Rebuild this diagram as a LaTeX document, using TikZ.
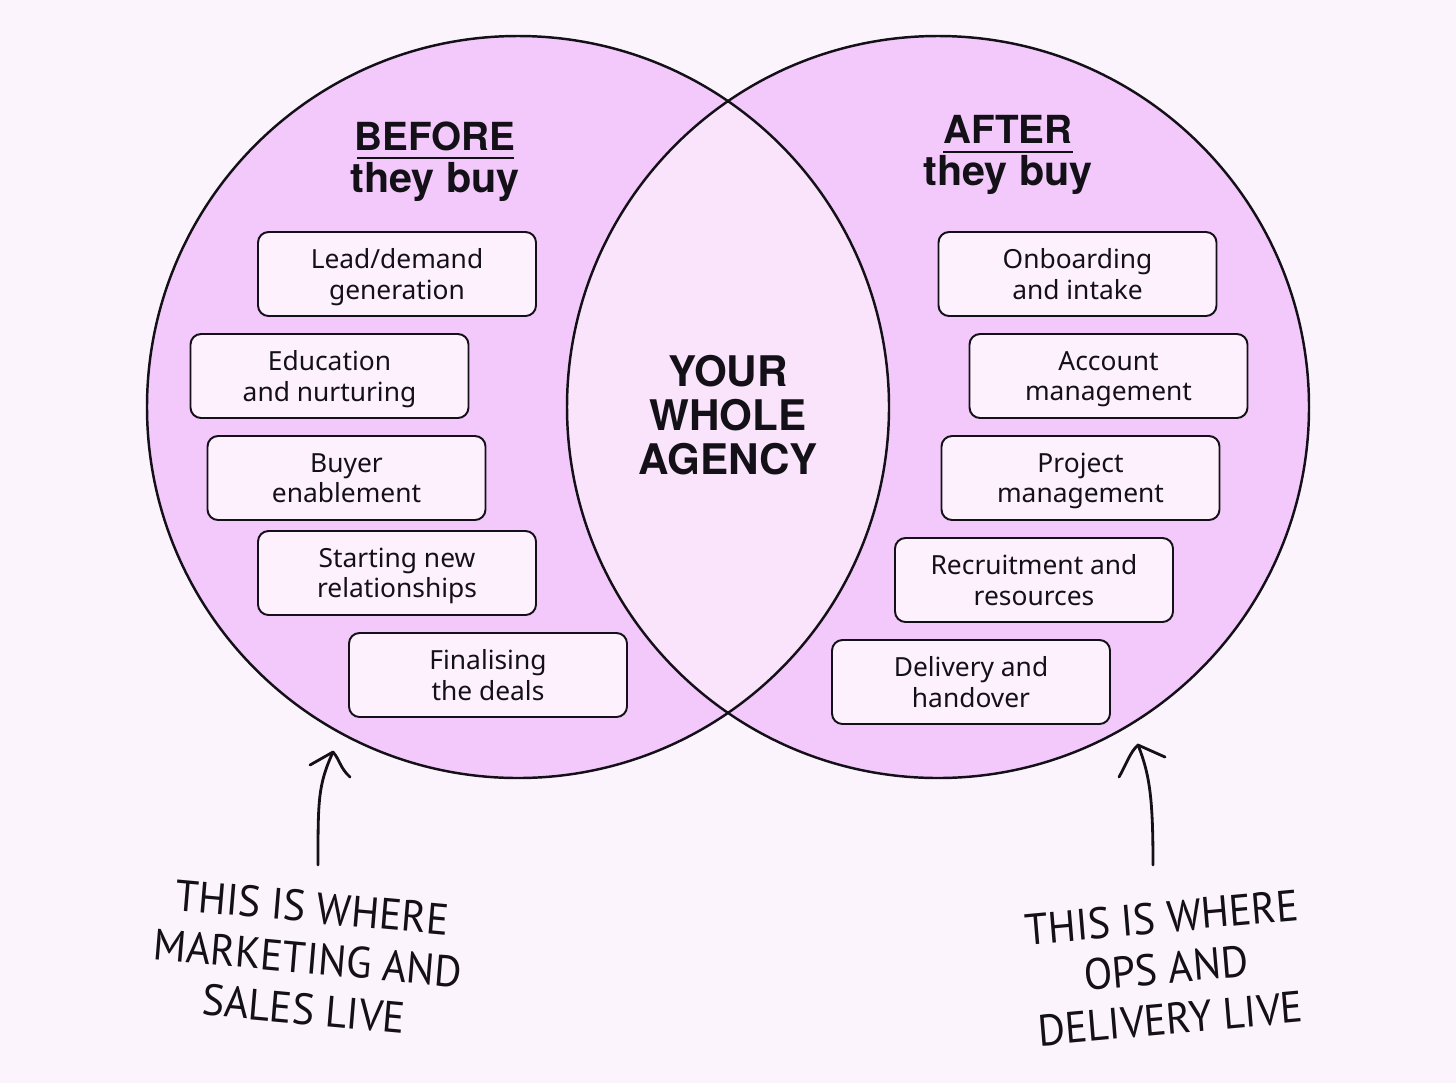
\documentclass[tikz,border=0pt]{standalone}
\usepackage{fontspec}
\setmainfont{Noto Sans}
\newfontfamily\headfont{TeX Gyre Heros}
\newfontfamily\handfont{PT Sans}
\definecolor{bgc}{RGB}{252,244,252}
\definecolor{circc}{RGB}{242,201,250}
\definecolor{lensc}{RGB}{250,228,252}
\definecolor{boxc}{RGB}{253,241,253}
\definecolor{inkc}{RGB}{20,16,24}
\tikzset{
  itembox/.style={draw=inkc, line width=1.1pt, fill=boxc, rounded corners=6pt,
    minimum width=278*0.02cm, minimum height=84*0.02cm, align=center,
    font=\fontsize{15}{17.2}\selectfont, text=inkc, inner sep=0pt, text depth=0pt},
  headtxt/.style={font=\headfont\fontsize{22}{25}\selectfont\bfseries, text=inkc, inner sep=0pt},
  handtxt/.style={font=\handfont\fontsize{25}{29}\selectfont, text=inkc, inner sep=0pt, xscale=0.95, align=center},
  pen/.style={line width=1.6pt, draw=inkc, line cap=round, line join=round}
}
\begin{document}
\begin{tikzpicture}[x=0.02cm,y=-0.02cm]
\useasboundingbox (0,0) rectangle (1456,1083);
\fill[bgc] (0,0) rectangle (1456,1083);
% circles
\fill[circc] (518,407) circle (371);
\fill[circc] (938,407) circle (371);
\begin{scope}
  \clip (518,407) circle (371);
  \fill[lensc] (938,407) circle (371);
\end{scope}
\draw[inkc, line width=1.4pt] (518,407) circle (371);
\draw[inkc, line width=1.4pt] (938,407) circle (371);
% headings
\node[headtxt] (bef) at (435,136) {BEFORE};
\draw[inkc, line width=1.6pt] (357,158) -- (514,158);
\node[headtxt, font=\headfont\fontsize{23.5}{25}\selectfont\bfseries] (bef2) at (435,182) {they buy};
\node[headtxt] (aft) at (1008,129) {AFTER};
\draw[inkc, line width=1.6pt] (943,152) -- (1073,152);
\node[headtxt, font=\headfont\fontsize{23.5}{25}\selectfont\bfseries] (aft2) at (1008,175) {they buy};
% center
\node[font=\headfont\fontsize{24}{25}\selectfont\bfseries, align=center, text=inkc, inner sep=0pt] (mid) at (728,415) {YOUR\\WHOLE\\AGENCY};
% left boxes
\node[itembox] (l1) at (397,274) {Lead/demand\\generation};
\node[itembox] (l2) at (329.5,376) {Education\\and nurturing};
\node[itembox] (l3) at (346.5,478) {Buyer\\enablement};
\node[itembox] (l4) at (397,573) {Starting new\\relationships};
\node[itembox] (l5) at (488,675) {Finalising\\the deals};
% right boxes
\node[itembox] (r1) at (1077.5,274) {Onboarding\\and intake};
\node[itembox] (r2) at (1108.5,376) {Account\\management};
\node[itembox] (r3) at (1080.5,478) {Project\\management};
\node[itembox] (r4) at (1034,580) {Recruitment and\\resources};
\node[itembox] (r5) at (971,682) {Delivery and\\handover};
% arrows
\coordinate (la0) at (318,865);
\coordinate (la1) at (333,752);
\coordinate (lb1) at (310,765);
\coordinate (lb2) at (350,777);
\draw[pen] (la0) .. controls (318,800) and (318,785) .. (la1);
\draw[pen] (lb1) -- (la1) .. controls (340,760) and (340,768) .. (lb2);
\coordinate (ra0) at (1153,865);
\coordinate (ra1) at (1138,745);
\coordinate (rb1) at (1119,777);
\coordinate (rb2) at (1165,757);
\draw[pen] (ra0) .. controls (1153,800) and (1150,775) .. (ra1);
\draw[pen] (rb1) .. controls (1126,765) and (1130,752) .. (ra1) -- (rb2);
% handwritten notes
\node[handtxt, rotate=-5] (lnote) at (308,958) {THIS IS WHERE\\MARKETING AND\\SALES LIVE};
\node[handtxt, rotate=5] (rnote) at (1166,968) {THIS IS WHERE\\OPS AND\\DELIVERY LIVE};
\end{tikzpicture}
\end{document}
